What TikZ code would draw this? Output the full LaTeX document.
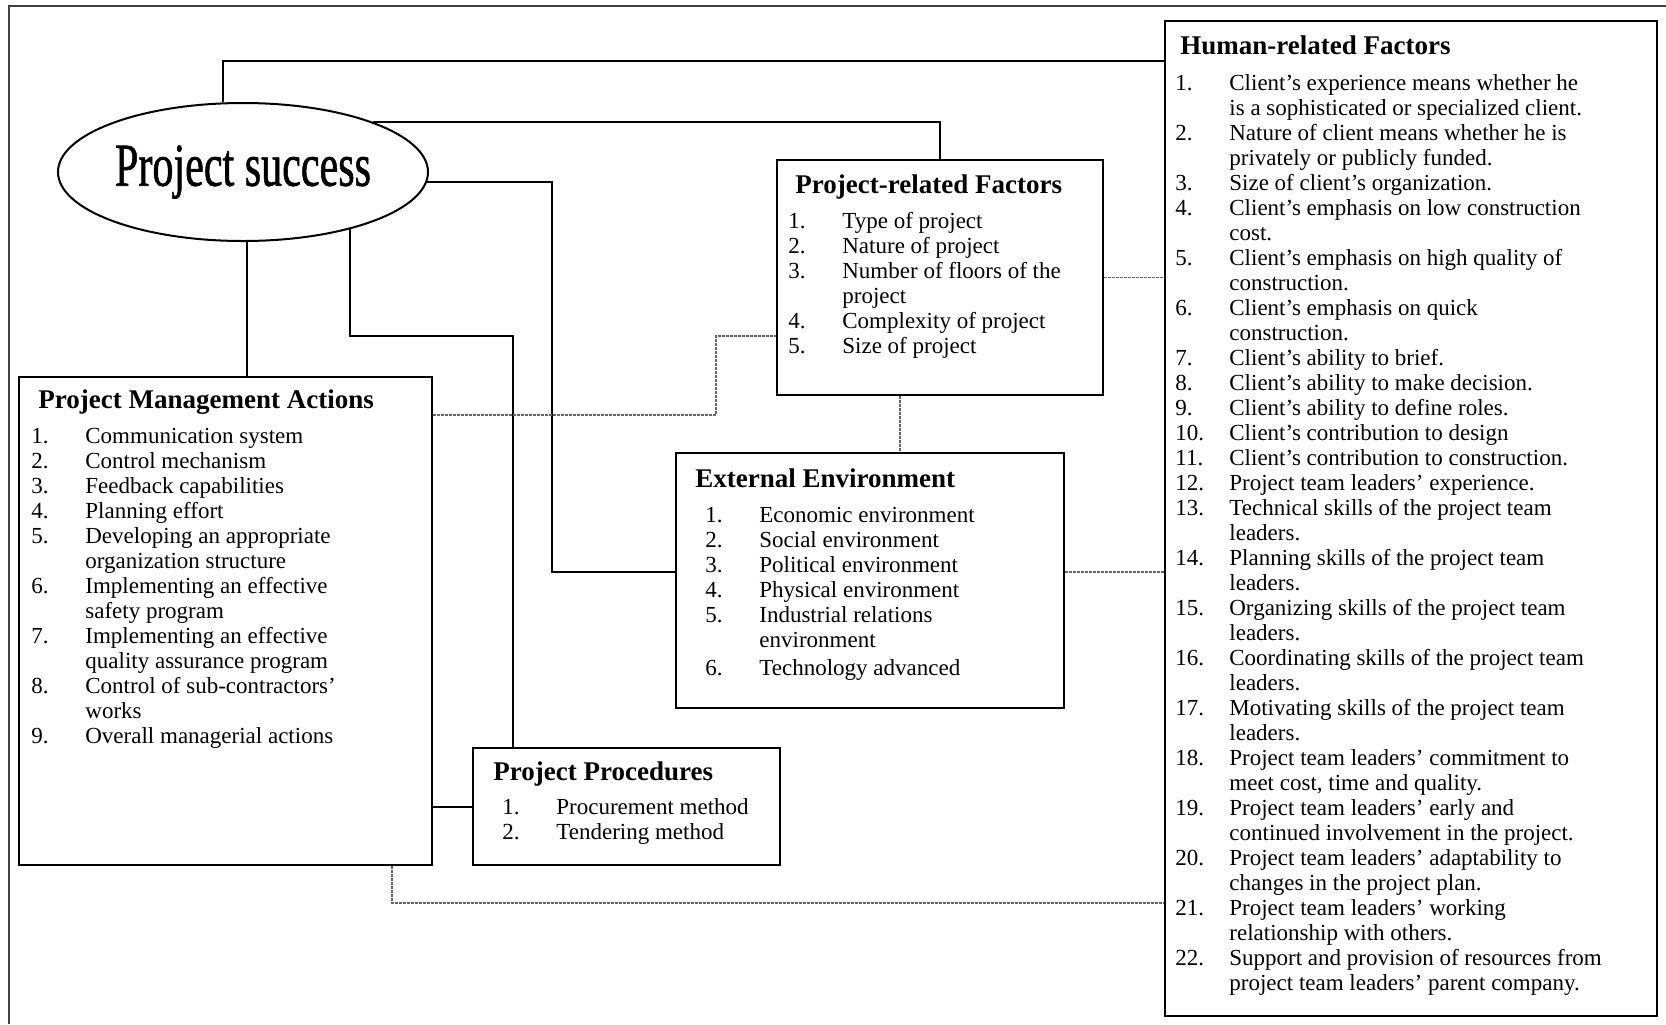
\documentclass[tikz,border=0pt]{standalone}
\usepackage{fontspec}
\setmainfont{Liberation Serif}
\newfontfamily\successfont[FakeBold=1.2]{Liberation Serif}
\usepackage{graphicx}
\usetikzlibrary{shapes.geometric,fit}
\tikzset{
	factorbox/.style={draw, line width=1.2pt, inner sep=0pt},
	link/.style={line width=1pt},
	dotlink/.style={black!60, line width=0.7pt, dash pattern=on 1.2pt off 0.8pt},
	boxhead/.style={anchor=base west, inner sep=0pt, font=\fontsize{13.5}{16}\selectfont\bfseries},
	boxlist/.style={anchor=base west, inner sep=0pt, font=\fontsize{11.5}{12.5}\selectfont},
}
\newcommand{\itemlist}[1]{\begin{tabular}[t]{@{}p{27pt}@{}l@{}}#1\end{tabular}}

\begin{document}
\begin{tikzpicture}[x=0.5pt, y=-0.5pt]
		\useasboundingbox (0,0) rectangle (1666,1024);
		\draw[line width=1.3pt, black!75] (9,1024) |- (1666,6);
		\node[ellipse, draw, line width=1pt, minimum width=185pt, minimum height=69pt, inner sep=0pt,
			font=\successfont\fontsize{30.5}{36}\selectfont] (ps) at (243,172) {\scalebox{0.69}[1]{Project success}};
		\node[factorbox, fit={(19,377) (432,865)}] (pma) {};
		\node[factorbox, fit={(777,160) (1103,395)}] (prf) {};
		\node[factorbox, fit={(676,453) (1064,708)}] (ee) {};
		\node[factorbox, fit={(473,748) (780,865)}] (pp) {};
		\node[factorbox, fit={(1165,21) (1657,1016)}] (hrf) {};
		\node[boxhead] (pmahead) at (38,408) {Project Management Actions};
		\node[boxlist] (pmalist) at (31,443) {\itemlist{
			1. & Communication system\\
			2. & Control mechanism\\
			3. & Feedback capabilities\\
			4. & Planning effort\\
			5. & Developing an appropriate\\
			   & organization structure\\
			6. & Implementing an effective\\
			   & safety program\\
			7. & Implementing an effective\\
			   & quality assurance program\\
			8. & Control of sub-contractors'\\
			   & works\\
			9. & Overall managerial actions}};
		\node[boxhead] (prfhead) at (795,193) {Project-related Factors};
		\node[boxlist] (prflist) at (788,228) {\itemlist{
			1. & Type of project\\
			2. & Nature of project\\
			3. & Number of floors of the\\
			   & project\\
			4. & Complexity of project\\
			5. & Size of project}};
		\node[boxhead] (eehead) at (695,487) {External Environment};
		\node[boxlist] (eelist) at (705,522) {\itemlist{
			1. & Economic environment\\
			2. & Social environment\\
			3. & Political environment\\
			4. & Physical environment\\
			5. & Industrial relations\\
			   & environment\\[1.5pt]
			6. & Technology advanced}};
		\node[boxhead] (pphead) at (493,780) {Project Procedures};
		\node[boxlist] (pplist) at (502,814) {\itemlist{
			1. & Procurement method\\
			2. & Tendering method}};
		\node[boxhead] (hrfhead) at (1180,54) {Human-related Factors};
		\node[boxlist] (hrflist) at (1175,90) {\itemlist{
			1. & Client's experience means whether he\\
			   & is a sophisticated or specialized client.\\
			2. & Nature of client means whether he is\\
			   & privately or publicly funded.\\
			3. & Size of client's organization.\\
			4. & Client's emphasis on low construction\\
			   & cost.\\
			5. & Client's emphasis on high quality of\\
			   & construction.\\
			6. & Client's emphasis on quick\\
			   & construction.\\
			7. & Client's ability to brief.\\
			8. & Client's ability to make decision.\\
			9. & Client's ability to define roles.\\
			10. & Client's contribution to design\\
			11. & Client's contribution to construction.\\
			12. & Project team leaders' experience.\\
			13. & Technical skills of the project team\\
			    & leaders.\\
			14. & Planning skills of the project team\\
			    & leaders.\\
			15. & Organizing skills of the project team\\
			    & leaders.\\
			16. & Coordinating skills of the project team\\
			    & leaders.\\
			17. & Motivating skills of the project team\\
			    & leaders.\\
			18. & Project team leaders' commitment to\\
			    & meet cost, time and quality.\\
			19. & Project team leaders' early and\\
			    & continued involvement in the project.\\
			20. & Project team leaders' adaptability to\\
			    & changes in the project plan.\\
			21. & Project team leaders' working\\
			    & relationship with others.\\
			22. & Support and provision of resources from\\
			    & project team leaders' parent company.}};
		\coordinate (c3) at (552,572);
		\coordinate (c4) at (513,336);
		\coordinate (d1) at (716,415);
		\coordinate (d5) at (392,903);
		\draw[link] (ps.106) |- ([yshift=-20.5pt]hrf.north west);
		\draw[link] (ps.21) -| (prf.north);
		\draw[link] (ps.-3) -| (c3) -- (c3 -| ee.west);
		\draw[link] (ps.-28) |- (c4) -- (c4 |- pp.north);
		\draw[link] (ps.-87) -- (ps.-87 |- pma.north);
		\draw[link] (pp.west) -- (pp.west -| pma.east);
		\draw[dotlink] (d1 -| pma.east) -- (d1) |- (prf.west |- c4);
		\draw[dotlink] ([xshift=-20pt]prf.south) -- ([xshift=-20pt]prf.south |- ee.north);
		\draw[dotlink] (prf.east) -- (prf.east -| hrf.west);
		\draw[dotlink] (c3 -| ee.east) -- (c3 -| hrf.west);
		\draw[dotlink] (d5 |- pma.south) -- (d5) -- (d5 -| hrf.west);
	\end{tikzpicture}
\end{document}
